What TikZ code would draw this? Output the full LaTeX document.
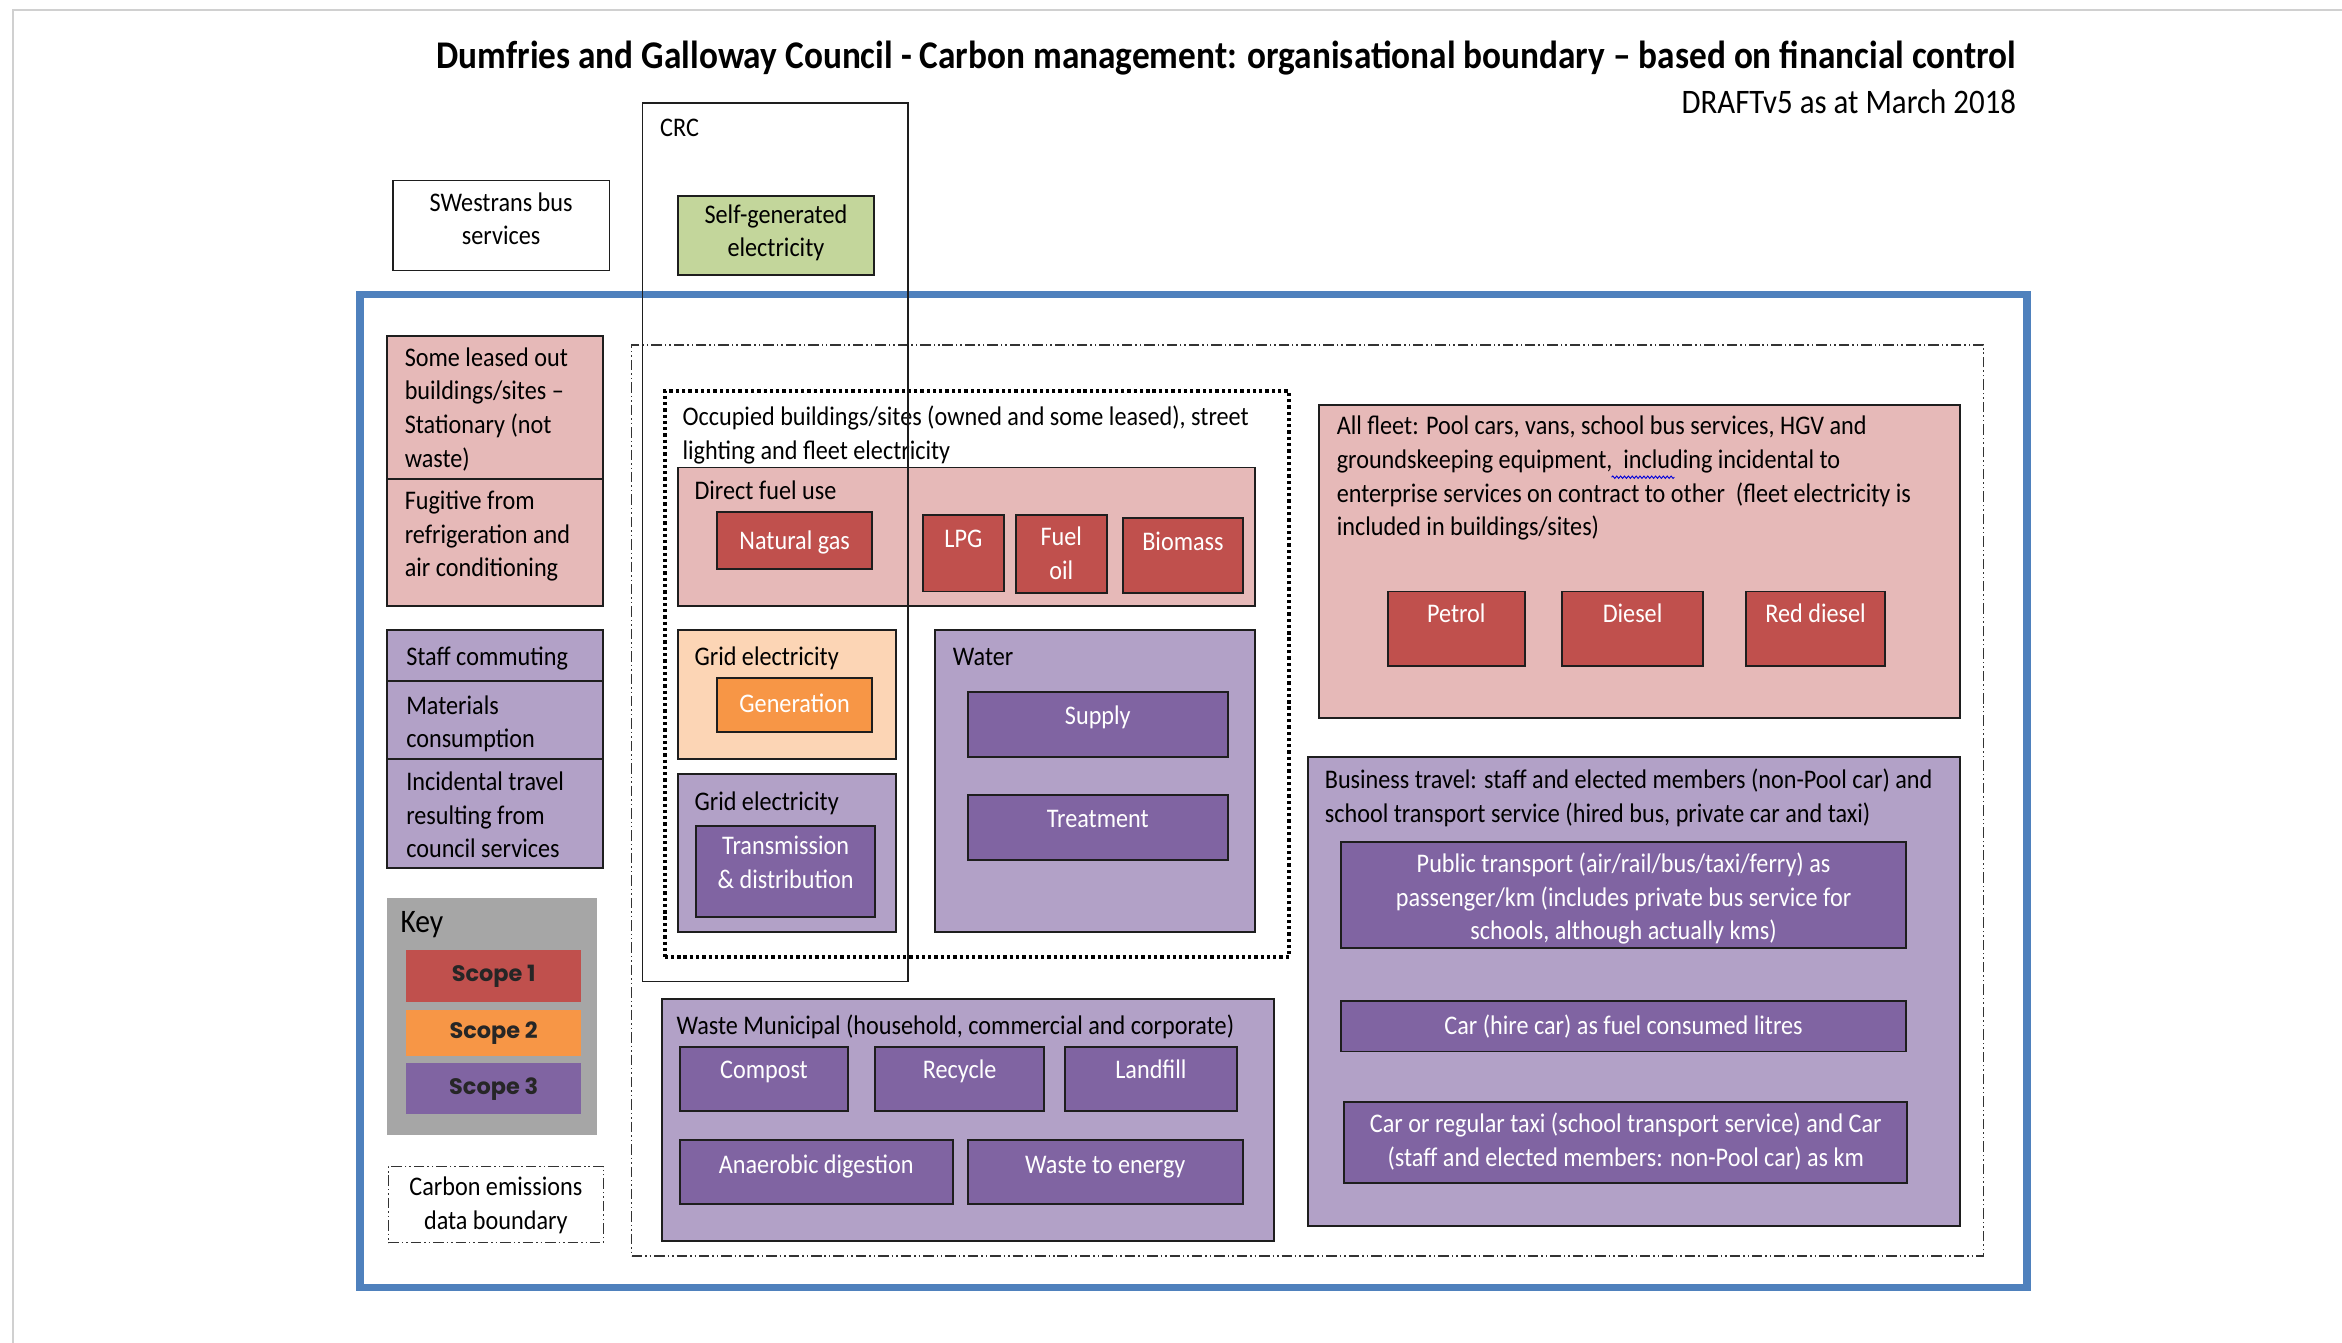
\documentclass[tikz,border=0pt]{standalone}
\usepackage{fontspec}
\setmainfont{Carlito}[FakeStretch=0.9]
\newfontfamily\keyfont{Poppins}
\usetikzlibrary{fit,decorations.pathmorphing}
\definecolor{pinkc}{HTML}{E6B9B8}
\definecolor{redc}{HTML}{C0504D}
\definecolor{peachc}{HTML}{FCD5B5}
\definecolor{orangec}{HTML}{F79646}
\definecolor{lavc}{HTML}{B2A1C7}
\definecolor{purpc}{HTML}{8064A2}
\definecolor{greenc}{HTML}{C3D69B}
\definecolor{keyc}{HTML}{A6A6A6}
\definecolor{bluec}{HTML}{4F81BD}
\definecolor{pagec}{HTML}{D0D0D0}
\definecolor{edgec}{HTML}{1E1E1E}
\newcommand\bodyf{\fontsize{18}{22.5}\selectfont}
\newcommand\titlef{\fontsize{26.25}{30}\selectfont\bfseries}
\newcommand\draftf{\fontsize{23}{27}\selectfont}
\newcommand\keylabf{\fontsize{22}{26}\selectfont}
\newcommand\scopef{\keyfont\fontsize{15}{18}\selectfont\bfseries}
\tikzset{
  bx/.style={draw=edgec, line width=1.3pt, inner sep=0pt, outer sep=0pt},
  plainb/.style={bx, line width=1pt},
  pinkb/.style={bx, fill=pinkc},
  redb/.style={bx, fill=redc},
  peachb/.style={bx, fill=peachc},
  orangeb/.style={bx, fill=orangec},
  lavb/.style={bx, fill=lavc},
  purpb/.style={bx, fill=purpc},
  greenb/.style={bx, fill=greenc},
  blueb/.style={draw=bluec, line width=5pt, inner sep=0pt, outer sep=0pt},
  keyb/.style={fill=keyc, inner sep=0pt, outer sep=0pt},
  ddb/.style={draw=black!80, line width=0.9pt, inner sep=0pt, outer sep=0pt,
    dash pattern=on 7pt off 2pt on 1pt off 2pt on 1pt off 2pt},
  dotb/.style={draw=black, line width=2.6pt, inner sep=0pt, outer sep=0pt,
    dash pattern=on 2.2pt off 2pt},
  txt/.style={font=\bodyf, inner sep=0pt, outer sep=0pt, align=left,
    anchor=north west, execute at begin node=\strut},
  wtxt/.style={txt, text=white, align=center, anchor=north},
  sctxt/.style={font=\scopef, text=black!85, inner sep=0pt, anchor=center},
}
\newcommand\Bx[6]{\node[#2, fit={(#3,#4) (#5,#6)}] (#1) {};}
\newcommand\Tx[5][]{\node[txt,#1] (#2) at (#3,{#4-8.3}) {#5};}
\newcommand\Wx[5][]{\node[wtxt,#1] (#2) at (#3,{#4-9}) {#5};}
\begin{document}
\begin{tikzpicture}[x=1pt,y=-1pt]
\useasboundingbox (0,0) rectangle (1568,899);
\fill[white] (0,0) rectangle (1568,899);
% page edge
\draw[pagec, line width=1.3pt] (9,899) -- (9,7) -- (1568,7);
% title
\node[font=\titlef, anchor=base east, inner sep=0pt] (title) at (1350,46)
  {Dumfries and Galloway Council - Carbon management: organisational boundary – based on financial control};
\node[font=\draftf, anchor=base east, inner sep=0pt] (draft) at (1350,76) {DRAFTv5 as at March 2018};
% top boxes
\Bx{swb}{plainb}{263}{121}{408}{181}
\Wx[text=black]{swt}{335.5}{138}{SWestrans bus\\services}
\Bx{sge}{greenb}{454}{131}{585}{184}
\Wx[text=black]{sget}{519.5}{146}{Self-generated\\electricity}
% organisational boundary
\Bx{org}{blueb}{241}{197}{1357}{862}
\Bx{cedb}{ddb}{423}{231}{1328}{841}
% occupied buildings
\Bx{occ}{dotb}{445}{262}{863}{641}
\Tx{occt}{457}{280}{Occupied buildings/sites (owned and some leased), street\\lighting and fleet electricity}
\Bx{dfu}{pinkb}{454}{313}{840}{406}
\Tx{dfut}{465}{327}{Direct fuel use}
\Bx{ng}{redb}{480}{343}{584}{381}
\Wx{ngt}{532}{361}{Natural gas}
\Bx{lpg}{redb}{618}{345}{672}{396}
\Wx{lpgt}{645}{360}{LPG}
\Bx{fo}{redb}{680}{345}{741}{397}
\Wx{fot}{710.5}{362}{Fuel\\oil}
\Bx{bio}{redb}{752}{347}{832}{397}
\Wx{biot}{792}{362}{Biomass}
\Bx{ge2}{peachb}{454}{422}{600}{508}
\Tx{ge2t}{465}{438}{Grid electricity}
\Bx{gen}{orangeb}{480}{454}{584}{490}
\Wx{gent}{532}{470}{Generation}
\Bx{ge3}{lavb}{454}{518}{600}{624}
\Tx{ge3t}{465}{535}{Grid electricity}
\Bx{td}{purpb}{466}{553}{586}{614}
\Wx{tdt}{526}{569}{Transmission\\\& distribution}
\Bx{wat}{lavb}{626}{422}{840}{624}
\Tx{watt}{638}{438}{Water}
\Bx{sup}{purpb}{648}{463}{822}{507}
\Wx{supt}{735}{478}{Supply}
\Bx{trt}{purpb}{648}{532}{822}{576}
\Wx{trtt}{735}{547}{Treatment}
% left column
\Bx{lease}{pinkb}{259}{225}{404}{321}
\Tx{leaset}{271}{241}{Some leased out\\buildings/sites –\\Stationary (not\\waste)}
\Bx{fug}{pinkb}{259}{321}{404}{406}
\Tx{fugt}{271}{337}{Fugitive from\\refrigeration and\\air conditioning}
\Bx{staff}{lavb}{259}{422}{404}{456}
\Tx{stafft}{272}{438}{Staff commuting}
\Bx{mat}{lavb}{259}{456}{404}{508}
\Tx{matt}{272}{474}{Materials\\consumption}
\Bx{inc}{lavb}{259}{508}{404}{581}
\Tx{inct}{272}{525}{Incidental travel\\resulting from\\council services}
% key
\Bx{key}{keyb}{259}{601}{400}{760}
\node[font=\keylabf, anchor=base west, inner sep=0pt] (keyt) at (268,624) {Key};
\Bx{s1}{keyb, fill=redc}{272}{636}{389}{671}
\node[sctxt] (s1t) at (s1.center) {Scope 1};
\Bx{s2}{keyb, fill=orangec}{272}{676}{389}{707}
\node[sctxt] (s2t) at (s2.center) {Scope 2};
\Bx{s3}{keyb, fill=purpc}{272}{712}{389}{746}
\node[sctxt] (s3t) at (s3.center) {Scope 3};
\Bx{ceb}{ddb}{260}{781}{404}{832}
\Wx[text=black]{cebt}{332}{797}{Carbon emissions\\data boundary}
% fleet
\Bx{fleet}{pinkb}{883}{271}{1312}{481}
\Tx{fleett}{895}{287}{All fleet: Pool cars, vans, school bus services, HGV and\\groundskeeping equipment,~ including incidental to\\enterprise services on contract to other~ (fleet electricity is\\included in buildings/sites)}
\coordinate (sqa) at (1079,319.5);
\coordinate (sqb) at (1121,319.5);
\draw[decorate, decoration={snake, amplitude=0.8pt, segment length=2.6pt}, blue!85!black, line width=0.6pt] (sqa) -- (sqb);
\Bx{pet}{redb}{929}{396}{1021}{446}
\Wx{pett}{975}{410}{Petrol}
\Bx{die}{redb}{1046}{396}{1140}{446}
\Wx{diet}{1093}{410}{Diesel}
\Bx{rdie}{redb}{1169}{396}{1262}{446}
\Wx{rdiet}{1215.5}{410}{Red diesel}
% business travel
\Bx{bus}{lavb}{876}{507}{1312}{821}
\Tx{bust}{887}{523}{Business travel: staff and elected members (non-Pool car) and\\school transport service (hired bus, private car and taxi)}
\Bx{pub}{purpb}{898}{564}{1276}{635}
\Wx{pubt}{1087}{580}{Public transport (air/rail/bus/taxi/ferry) as\\passenger/km (includes private bus service for\\schools, although actually kms)}
\Bx{hire}{purpb}{898}{670}{1276}{704}
\Wx{hiret}{1087}{686}{Car (hire car) as fuel consumed litres}
\Bx{taxi}{purpb}{900}{738}{1277}{792}
\Wx{taxit}{1088.5}{754}{Car or regular taxi (school transport service) and Car\\(staff and elected members: non-Pool car) as km}
% waste
\Bx{waste}{lavb}{443}{669}{853}{831}
\Tx{wastet}{453}{685}{Waste Municipal (household, commercial and corporate)}
\Bx{comp}{purpb}{455}{701}{568}{744}
\Wx{compt}{511.5}{715}{Compost}
\Bx{recy}{purpb}{586}{701}{699}{744}
\Wx{recyt}{642.5}{715}{Recycle}
\Bx{land}{purpb}{713}{701}{828}{744}
\Wx{landt}{770.5}{715}{Landfill}
\Bx{anae}{purpb}{455}{763}{638}{806}
\Wx{anaet}{546.5}{779}{Anaerobic digestion}
\Bx{wte}{purpb}{648}{763}{832}{806}
\Wx{wtet}{740}{779}{Waste to energy}
% CRC box on top
\Bx{crc}{plainb}{430}{69}{608}{657}
\Tx{crct}{442}{84}{CRC}
\end{tikzpicture}
\end{document}
